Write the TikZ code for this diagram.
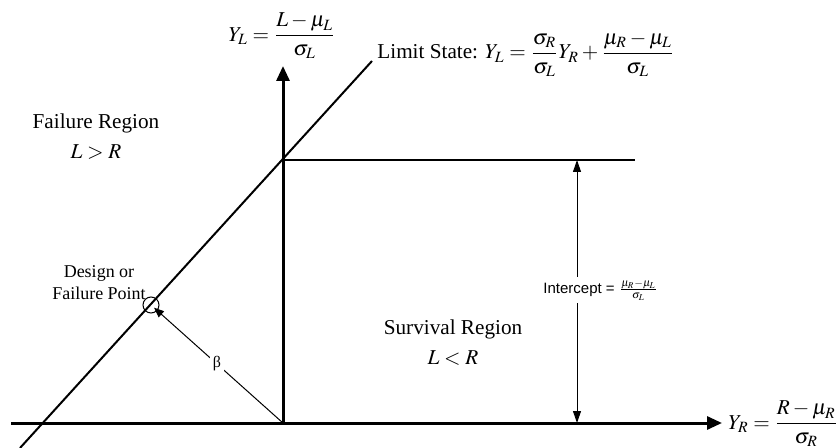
\documentclass[tikz,border=0pt]{standalone}
\usepackage{amsmath}
\usepackage{mathptmx}
\usepackage[no-math]{fontspec}
\setmainfont{Liberation Serif}
\setsansfont{Liberation Sans}
\usetikzlibrary{arrows.meta,positioning,calc}

\begin{document}
\begin{tikzpicture}[x=0.5pt,y=-0.5pt,
    ax/.style={line width=1.5pt, -{Triangle[length=7.5pt,width=6.5pt]}},
    ls/.style={line width=1pt},
    dim/.style={line width=0.5pt, {Triangle[length=6pt,width=4pt]}-{Triangle[length=6pt,width=4pt]}},
    txt/.style={font=\fontsize{10.6}{15}\selectfont, align=center, inner sep=0pt},
    sml/.style={font=\fontsize{9}{11}\selectfont, align=center, inner sep=0pt},
    lbl/.style={fill=white, inner sep=1.5pt},
  ]
  \useasboundingbox (0,0) rectangle (840,448);
  \coordinate (O) at (283,423);
  \coordinate (xs) at (11,423);
  \coordinate (xe) at (722,423);
  \coordinate (ye) at (283,66);
  \coordinate (B) at (20,448);
  \coordinate (T) at (372,61);
  \coordinate (I) at (283,160);
  \coordinate (Ie) at (635,160);
  \coordinate (dt) at (577,160);
  \coordinate (db) at (577,423);
  \draw[ax] (xs) -- (xe);
  \draw[ax] (O) -- (ye);
  \draw[ls] (B) -- (T);
  \draw[line width=0.8pt] (I) -- (Ie);
  \draw[dim] (dt) -- (db);
  \node[draw, circle, minimum size=8pt, inner sep=0pt, line width=0.5pt] (dp) at (151,305) {};
  \draw[line width=0.5pt, -{Triangle[length=5pt,width=4pt]}, shorten >=2pt] (O) -- node[lbl] (beta) {\fontsize{8}{9}\selectfont β} (dp.center);
  \node[lbl, anchor=west, font=\sffamily\fontsize{7.5}{9}\selectfont] (ic) at (540,290) {Intercept = $\frac{\mu_R-\mu_L}{\sigma_L}$};
  \node[txt] (yl) at (282,36) {$Y_L = \dfrac{L-\mu_L}{\sigma_L}$};
  \node[txt, anchor=base west] (lim) at (377,59) {Limit State: $Y_L = \dfrac{\sigma_R}{\sigma_L}Y_R + \dfrac{\mu_R-\mu_L}{\sigma_L}$};
  \node[txt, anchor=west] (yr) at (728,424) {$Y_R = \dfrac{R-\mu_R}{\sigma_R}$};
  \node[txt] (fr) at (96,137) {Failure Region\\$L>R$};
  \node[sml] (dfp) at (99,283) {Design or\\Failure Point};
  \node[txt] (sr) at (453,343) {Survival Region\\$L<R$};
\end{tikzpicture}
\end{document}
